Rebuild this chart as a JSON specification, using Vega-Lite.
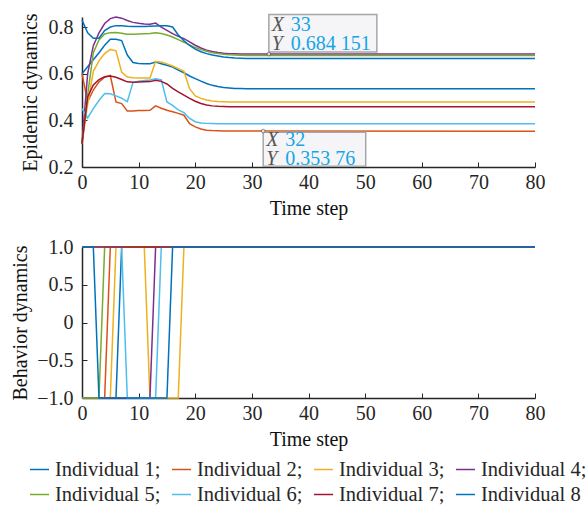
{
  "$schema": "https://vega.github.io/schema/vega-lite/v6.json",
  "padding": {"left": 10, "top": 11, "right": 5, "bottom": 0},
  "config": {
    "font": "Liberation Serif",
    "view": {"stroke": null},
    "axis": {
      "grid": false,
      "domainColor": "#262626",
      "domainWidth": 1.5,
      "tickColor": "#262626",
      "tickSize": -5,
      "tickWidth": 1,
      "labelColor": "#262626",
      "labelFont": "Liberation Serif",
      "labelFontSize": 20,
      "labelPadding": 14,
      "labelFlush": false,
      "titleFont": "Liberation Serif",
      "titleFontSize": 20,
      "titleFontWeight": "normal",
      "titleColor": "#111111"
    },
    "axisX": {"labelPadding": 10},
    "legend": {
      "labelFont": "Liberation Serif",
      "labelFontSize": 20.5,
      "labelColor": "#262626"
    }
  },
  "datasets": {
    "epi": [
      {"t":0,"ind":"Individual 1","v":0.600},{"t":1,"ind":"Individual 1","v":0.630},{"t":2,"ind":"Individual 1","v":0.660},{"t":3,"ind":"Individual 1","v":0.690},{"t":4,"ind":"Individual 1","v":0.722},{"t":5,"ind":"Individual 1","v":0.748},{"t":6,"ind":"Individual 1","v":0.748},{"t":7,"ind":"Individual 1","v":0.742},{"t":8,"ind":"Individual 1","v":0.680},{"t":9,"ind":"Individual 1","v":0.648},{"t":10,"ind":"Individual 1","v":0.644},{"t":11,"ind":"Individual 1","v":0.643},{"t":12,"ind":"Individual 1","v":0.643},{"t":13,"ind":"Individual 1","v":0.650},{"t":14,"ind":"Individual 1","v":0.643},{"t":15,"ind":"Individual 1","v":0.636},{"t":16,"ind":"Individual 1","v":0.628},{"t":17,"ind":"Individual 1","v":0.615},{"t":18,"ind":"Individual 1","v":0.604},{"t":19,"ind":"Individual 1","v":0.590},{"t":20,"ind":"Individual 1","v":0.579},{"t":21,"ind":"Individual 1","v":0.568},{"t":22,"ind":"Individual 1","v":0.558},{"t":23,"ind":"Individual 1","v":0.550},{"t":24,"ind":"Individual 1","v":0.545},{"t":25,"ind":"Individual 1","v":0.541},{"t":26,"ind":"Individual 1","v":0.539},{"t":27,"ind":"Individual 1","v":0.537},{"t":28,"ind":"Individual 1","v":0.536},{"t":29,"ind":"Individual 1","v":0.535},{"t":30,"ind":"Individual 1","v":0.535},{"t":80,"ind":"Individual 1","v":0.535},
      {"t":0,"ind":"Individual 2","v":0.600},{"t":1,"ind":"Individual 2","v":0.480},{"t":2,"ind":"Individual 2","v":0.530},{"t":3,"ind":"Individual 2","v":0.565},{"t":4,"ind":"Individual 2","v":0.585},{"t":5,"ind":"Individual 2","v":0.592},{"t":6,"ind":"Individual 2","v":0.479},{"t":7,"ind":"Individual 2","v":0.472},{"t":8,"ind":"Individual 2","v":0.440},{"t":9,"ind":"Individual 2","v":0.440},{"t":10,"ind":"Individual 2","v":0.442},{"t":11,"ind":"Individual 2","v":0.442},{"t":12,"ind":"Individual 2","v":0.443},{"t":13,"ind":"Individual 2","v":0.462},{"t":14,"ind":"Individual 2","v":0.452},{"t":15,"ind":"Individual 2","v":0.443},{"t":16,"ind":"Individual 2","v":0.437},{"t":17,"ind":"Individual 2","v":0.430},{"t":18,"ind":"Individual 2","v":0.422},{"t":19,"ind":"Individual 2","v":0.386},{"t":20,"ind":"Individual 2","v":0.372},{"t":21,"ind":"Individual 2","v":0.363},{"t":22,"ind":"Individual 2","v":0.358},{"t":23,"ind":"Individual 2","v":0.356},{"t":24,"ind":"Individual 2","v":0.355},{"t":25,"ind":"Individual 2","v":0.354},{"t":26,"ind":"Individual 2","v":0.3538},{"t":27,"ind":"Individual 2","v":0.3538},{"t":28,"ind":"Individual 2","v":0.3538},{"t":29,"ind":"Individual 2","v":0.3538},{"t":30,"ind":"Individual 2","v":0.3538},{"t":80,"ind":"Individual 2","v":0.35376},
      {"t":0,"ind":"Individual 3","v":0.300},{"t":1,"ind":"Individual 3","v":0.470},{"t":2,"ind":"Individual 3","v":0.610},{"t":3,"ind":"Individual 3","v":0.655},{"t":4,"ind":"Individual 3","v":0.686},{"t":5,"ind":"Individual 3","v":0.704},{"t":6,"ind":"Individual 3","v":0.698},{"t":7,"ind":"Individual 3","v":0.607},{"t":8,"ind":"Individual 3","v":0.586},{"t":9,"ind":"Individual 3","v":0.583},{"t":10,"ind":"Individual 3","v":0.582},{"t":11,"ind":"Individual 3","v":0.582},{"t":12,"ind":"Individual 3","v":0.582},{"t":13,"ind":"Individual 3","v":0.652},{"t":14,"ind":"Individual 3","v":0.650},{"t":15,"ind":"Individual 3","v":0.642},{"t":16,"ind":"Individual 3","v":0.633},{"t":17,"ind":"Individual 3","v":0.622},{"t":18,"ind":"Individual 3","v":0.610},{"t":19,"ind":"Individual 3","v":0.536},{"t":20,"ind":"Individual 3","v":0.505},{"t":21,"ind":"Individual 3","v":0.494},{"t":22,"ind":"Individual 3","v":0.487},{"t":23,"ind":"Individual 3","v":0.483},{"t":24,"ind":"Individual 3","v":0.481},{"t":25,"ind":"Individual 3","v":0.480},{"t":26,"ind":"Individual 3","v":0.479},{"t":27,"ind":"Individual 3","v":0.479},{"t":28,"ind":"Individual 3","v":0.479},{"t":29,"ind":"Individual 3","v":0.479},{"t":30,"ind":"Individual 3","v":0.479},{"t":80,"ind":"Individual 3","v":0.479},
      {"t":0,"ind":"Individual 4","v":0.300},{"t":1,"ind":"Individual 4","v":0.600},{"t":2,"ind":"Individual 4","v":0.720},{"t":3,"ind":"Individual 4","v":0.775},{"t":4,"ind":"Individual 4","v":0.815},{"t":5,"ind":"Individual 4","v":0.836},{"t":6,"ind":"Individual 4","v":0.843},{"t":7,"ind":"Individual 4","v":0.838},{"t":8,"ind":"Individual 4","v":0.828},{"t":9,"ind":"Individual 4","v":0.820},{"t":10,"ind":"Individual 4","v":0.816},{"t":11,"ind":"Individual 4","v":0.813},{"t":12,"ind":"Individual 4","v":0.812},{"t":13,"ind":"Individual 4","v":0.817},{"t":14,"ind":"Individual 4","v":0.800},{"t":15,"ind":"Individual 4","v":0.786},{"t":16,"ind":"Individual 4","v":0.772},{"t":17,"ind":"Individual 4","v":0.760},{"t":18,"ind":"Individual 4","v":0.750},{"t":19,"ind":"Individual 4","v":0.736},{"t":20,"ind":"Individual 4","v":0.722},{"t":21,"ind":"Individual 4","v":0.710},{"t":22,"ind":"Individual 4","v":0.701},{"t":23,"ind":"Individual 4","v":0.695},{"t":24,"ind":"Individual 4","v":0.691},{"t":25,"ind":"Individual 4","v":0.688},{"t":26,"ind":"Individual 4","v":0.686},{"t":27,"ind":"Individual 4","v":0.685},{"t":28,"ind":"Individual 4","v":0.6845},{"t":29,"ind":"Individual 4","v":0.6842},{"t":30,"ind":"Individual 4","v":0.68415},{"t":80,"ind":"Individual 4","v":0.684151},
      {"t":0,"ind":"Individual 5","v":0.300},{"t":1,"ind":"Individual 5","v":0.510},{"t":2,"ind":"Individual 5","v":0.690},{"t":3,"ind":"Individual 5","v":0.745},{"t":4,"ind":"Individual 5","v":0.770},{"t":5,"ind":"Individual 5","v":0.776},{"t":6,"ind":"Individual 5","v":0.777},{"t":7,"ind":"Individual 5","v":0.773},{"t":8,"ind":"Individual 5","v":0.769},{"t":9,"ind":"Individual 5","v":0.769},{"t":10,"ind":"Individual 5","v":0.770},{"t":11,"ind":"Individual 5","v":0.771},{"t":12,"ind":"Individual 5","v":0.772},{"t":13,"ind":"Individual 5","v":0.775},{"t":14,"ind":"Individual 5","v":0.772},{"t":15,"ind":"Individual 5","v":0.766},{"t":16,"ind":"Individual 5","v":0.757},{"t":17,"ind":"Individual 5","v":0.746},{"t":18,"ind":"Individual 5","v":0.735},{"t":19,"ind":"Individual 5","v":0.723},{"t":20,"ind":"Individual 5","v":0.712},{"t":21,"ind":"Individual 5","v":0.703},{"t":22,"ind":"Individual 5","v":0.696},{"t":23,"ind":"Individual 5","v":0.690},{"t":24,"ind":"Individual 5","v":0.686},{"t":25,"ind":"Individual 5","v":0.683},{"t":26,"ind":"Individual 5","v":0.681},{"t":27,"ind":"Individual 5","v":0.680},{"t":28,"ind":"Individual 5","v":0.679},{"t":29,"ind":"Individual 5","v":0.678},{"t":30,"ind":"Individual 5","v":0.678},{"t":80,"ind":"Individual 5","v":0.678},
      {"t":0,"ind":"Individual 6","v":0.450},{"t":1,"ind":"Individual 6","v":0.410},{"t":2,"ind":"Individual 6","v":0.450},{"t":3,"ind":"Individual 6","v":0.485},{"t":4,"ind":"Individual 6","v":0.515},{"t":5,"ind":"Individual 6","v":0.514},{"t":6,"ind":"Individual 6","v":0.505},{"t":7,"ind":"Individual 6","v":0.495},{"t":8,"ind":"Individual 6","v":0.480},{"t":9,"ind":"Individual 6","v":0.562},{"t":10,"ind":"Individual 6","v":0.568},{"t":11,"ind":"Individual 6","v":0.571},{"t":12,"ind":"Individual 6","v":0.573},{"t":13,"ind":"Individual 6","v":0.578},{"t":14,"ind":"Individual 6","v":0.573},{"t":15,"ind":"Individual 6","v":0.479},{"t":16,"ind":"Individual 6","v":0.464},{"t":17,"ind":"Individual 6","v":0.445},{"t":18,"ind":"Individual 6","v":0.433},{"t":19,"ind":"Individual 6","v":0.408},{"t":20,"ind":"Individual 6","v":0.394},{"t":21,"ind":"Individual 6","v":0.389},{"t":22,"ind":"Individual 6","v":0.387},{"t":23,"ind":"Individual 6","v":0.386},{"t":24,"ind":"Individual 6","v":0.385},{"t":25,"ind":"Individual 6","v":0.385},{"t":26,"ind":"Individual 6","v":0.385},{"t":27,"ind":"Individual 6","v":0.385},{"t":28,"ind":"Individual 6","v":0.385},{"t":29,"ind":"Individual 6","v":0.385},{"t":30,"ind":"Individual 6","v":0.385},{"t":80,"ind":"Individual 6","v":0.385},
      {"t":0,"ind":"Individual 7","v":0.300},{"t":1,"ind":"Individual 7","v":0.500},{"t":2,"ind":"Individual 7","v":0.552},{"t":3,"ind":"Individual 7","v":0.575},{"t":4,"ind":"Individual 7","v":0.587},{"t":5,"ind":"Individual 7","v":0.590},{"t":6,"ind":"Individual 7","v":0.585},{"t":7,"ind":"Individual 7","v":0.575},{"t":8,"ind":"Individual 7","v":0.565},{"t":9,"ind":"Individual 7","v":0.563},{"t":10,"ind":"Individual 7","v":0.564},{"t":11,"ind":"Individual 7","v":0.565},{"t":12,"ind":"Individual 7","v":0.566},{"t":13,"ind":"Individual 7","v":0.572},{"t":14,"ind":"Individual 7","v":0.567},{"t":15,"ind":"Individual 7","v":0.556},{"t":16,"ind":"Individual 7","v":0.537},{"t":17,"ind":"Individual 7","v":0.522},{"t":18,"ind":"Individual 7","v":0.508},{"t":19,"ind":"Individual 7","v":0.494},{"t":20,"ind":"Individual 7","v":0.482},{"t":21,"ind":"Individual 7","v":0.472},{"t":22,"ind":"Individual 7","v":0.466},{"t":23,"ind":"Individual 7","v":0.462},{"t":24,"ind":"Individual 7","v":0.460},{"t":25,"ind":"Individual 7","v":0.459},{"t":26,"ind":"Individual 7","v":0.458},{"t":27,"ind":"Individual 7","v":0.458},{"t":28,"ind":"Individual 7","v":0.458},{"t":29,"ind":"Individual 7","v":0.458},{"t":30,"ind":"Individual 7","v":0.458},{"t":80,"ind":"Individual 7","v":0.458},
      {"t":0,"ind":"Individual 8","v":0.830},{"t":1,"ind":"Individual 8","v":0.775},{"t":2,"ind":"Individual 8","v":0.752},{"t":3,"ind":"Individual 8","v":0.752},{"t":4,"ind":"Individual 8","v":0.785},{"t":5,"ind":"Individual 8","v":0.800},{"t":6,"ind":"Individual 8","v":0.806},{"t":7,"ind":"Individual 8","v":0.805},{"t":8,"ind":"Individual 8","v":0.803},{"t":9,"ind":"Individual 8","v":0.802},{"t":10,"ind":"Individual 8","v":0.802},{"t":11,"ind":"Individual 8","v":0.802},{"t":12,"ind":"Individual 8","v":0.803},{"t":13,"ind":"Individual 8","v":0.804},{"t":14,"ind":"Individual 8","v":0.805},{"t":15,"ind":"Individual 8","v":0.805},{"t":16,"ind":"Individual 8","v":0.800},{"t":17,"ind":"Individual 8","v":0.766},{"t":18,"ind":"Individual 8","v":0.741},{"t":19,"ind":"Individual 8","v":0.721},{"t":20,"ind":"Individual 8","v":0.705},{"t":21,"ind":"Individual 8","v":0.694},{"t":22,"ind":"Individual 8","v":0.686},{"t":23,"ind":"Individual 8","v":0.680},{"t":24,"ind":"Individual 8","v":0.676},{"t":25,"ind":"Individual 8","v":0.672},{"t":26,"ind":"Individual 8","v":0.669},{"t":27,"ind":"Individual 8","v":0.667},{"t":28,"ind":"Individual 8","v":0.666},{"t":29,"ind":"Individual 8","v":0.665},{"t":30,"ind":"Individual 8","v":0.665},{"t":80,"ind":"Individual 8","v":0.665}
    ],
    "beh": [
      {"t":0,"ind":"Individual 1","b":-1},{"t":6,"ind":"Individual 1","b":-1},{"t":7,"ind":"Individual 1","b":1},{"t":80,"ind":"Individual 1","b":1},
      {"t":0,"ind":"Individual 2","b":-1},{"t":4,"ind":"Individual 2","b":-1},{"t":5,"ind":"Individual 2","b":1},{"t":80,"ind":"Individual 2","b":1},
      {"t":0,"ind":"Individual 3","b":-1},{"t":5,"ind":"Individual 3","b":-1},{"t":6,"ind":"Individual 3","b":1},{"t":11,"ind":"Individual 3","b":1},{"t":12,"ind":"Individual 3","b":-1},{"t":17,"ind":"Individual 3","b":-1},{"t":18,"ind":"Individual 3","b":1},{"t":80,"ind":"Individual 3","b":1},
      {"t":0,"ind":"Individual 4","b":-1},{"t":12,"ind":"Individual 4","b":-1},{"t":13,"ind":"Individual 4","b":1},{"t":80,"ind":"Individual 4","b":1},
      {"t":0,"ind":"Individual 5","b":-1},{"t":3,"ind":"Individual 5","b":-1},{"t":4,"ind":"Individual 5","b":1},{"t":80,"ind":"Individual 5","b":1},
      {"t":0,"ind":"Individual 6","b":1},{"t":7,"ind":"Individual 6","b":1},{"t":8,"ind":"Individual 6","b":-1},{"t":13,"ind":"Individual 6","b":-1},{"t":14,"ind":"Individual 6","b":1},{"t":80,"ind":"Individual 6","b":1},
      {"t":0,"ind":"Individual 7","b":1},{"t":80,"ind":"Individual 7","b":1},
      {"t":0,"ind":"Individual 8","b":1},{"t":2,"ind":"Individual 8","b":1},{"t":3,"ind":"Individual 8","b":-1},{"t":15,"ind":"Individual 8","b":-1},{"t":16,"ind":"Individual 8","b":1},{"t":80,"ind":"Individual 8","b":1}
    ],
    "tips": [
      {"t":33,"v":0.684151,"pos":"above","txt":"33\n0.684 151"},
      {"t":32,"v":0.35376,"pos":"below","txt":"32\n0.353 76"}
    ]
  },
  "vconcat": [
    {
      "width": 453,
      "height": 150,
      "layer": [
        {
          "data": {"name": "epi"},
          "mark": {"type": "line", "strokeWidth": 1.5},
          "encoding": {
            "x": {"field": "t", "type": "quantitative", "scale": {"domain": [0, 80], "nice": false}, "axis": {"values": [0,10,20,30,40,50,60,70,80], "title": "Time step", "titlePadding": 6}},
            "y": {"field": "v", "type": "quantitative", "scale": {"domain": [0.2, 0.843], "nice": false, "zero": false}, "axis": {"values": [0.2,0.4,0.6,0.8], "format": ".1f", "title": "Epidemic dynamics", "titlePadding": 8}},
            "color": {"field": "ind", "type": "nominal",
              "scale": {"domain": ["Individual 1","Individual 2","Individual 3","Individual 4","Individual 5","Individual 6","Individual 7","Individual 8"],
                        "range": ["#0072BD","#D95319","#EDB120","#7E2F8E","#77AC30","#4DBEEE","#A2142F","#0072BD"]},
              "legend": {"title": null, "orient": "none", "legendX": -53, "legendY": 442, "direction": "horizontal", "columns": 4, "padding": 0, "symbolType": "stroke", "symbolSize": 361, "symbolStrokeWidth": 1.5, "labelOffset": 5, "columnPadding": 8, "rowPadding": 4, "labelFont": "Liberation Serif", "labelFontSize": 20.5,
                "labelExpr": "datum.label == 'Individual 8' ? datum.label : datum.label + ';'"}}
          }
        },
        {
          "data": {"name": "tips"},
          "mark": {"type": "point", "filled": true, "size": 10000, "fill": "#F4F4F8", "fillOpacity": 0.95, "stroke": "#A6A6A6", "strokeWidth": 1.5, "opacity": 1},
          "encoding": {
            "x": {"field": "t", "type": "quantitative"},
            "y": {"field": "v", "type": "quantitative"},
            "shape": {"field": "pos", "type": "nominal", "legend": null,
              "scale": {"domain": ["above","below"], "range": ["M0,-0.04 L2.16,-0.04 L2.16,-0.79 L0,-0.79 Z", "M0,0.02 L2.05,0.02 L2.05,0.70 L0,0.70 Z"]}}
          }
        },
        {
          "data": {"name": "tips"},
          "mark": {"type": "point", "filled": true, "size": 14, "fill": "#ffffff", "stroke": "#404040", "strokeWidth": 0.8, "shape": "circle"},
          "encoding": {
            "x": {"field": "t", "type": "quantitative"},
            "y": {"field": "v", "type": "quantitative"}
          }
        },
        {
          "data": {"name": "tips"},
          "transform": [{"filter": "datum.pos == 'above'"}],
          "mark": {"type": "text", "text": "X\nY", "lineBreak": "\n", "lineHeight": 19.5, "align": "left", "baseline": "alphabetic", "dx": 3, "dy": -23.5, "fontSize": 20, "fontStyle": "italic", "color": "#555555", "font": "Liberation Serif"},
          "encoding": {"x": {"field": "t", "type": "quantitative"}, "y": {"field": "v", "type": "quantitative"}}
        },
        {
          "data": {"name": "tips"},
          "transform": [{"filter": "datum.pos == 'above'"}],
          "mark": {"type": "text", "lineBreak": "\n", "lineHeight": 19.5, "align": "left", "baseline": "alphabetic", "dx": 22, "dy": -23.5, "fontSize": 20, "color": "#14A5E6", "font": "Liberation Serif"},
          "encoding": {"x": {"field": "t", "type": "quantitative"}, "y": {"field": "v", "type": "quantitative"}, "text": {"field": "txt"}}
        },
        {
          "data": {"name": "tips"},
          "transform": [{"filter": "datum.pos == 'below'"}],
          "mark": {"type": "text", "text": "X\nY", "lineBreak": "\n", "lineHeight": 18.5, "align": "left", "baseline": "alphabetic", "dx": 3, "dy": 15, "fontSize": 20, "fontStyle": "italic", "color": "#555555", "font": "Liberation Serif"},
          "encoding": {"x": {"field": "t", "type": "quantitative"}, "y": {"field": "v", "type": "quantitative"}}
        },
        {
          "data": {"name": "tips"},
          "transform": [{"filter": "datum.pos == 'below'"}],
          "mark": {"type": "text", "lineBreak": "\n", "lineHeight": 18.5, "align": "left", "baseline": "alphabetic", "dx": 22, "dy": 15, "fontSize": 20, "color": "#14A5E6", "font": "Liberation Serif"},
          "encoding": {"x": {"field": "t", "type": "quantitative"}, "y": {"field": "v", "type": "quantitative"}, "text": {"field": "txt"}}
        }
      ]
    },
    {
      "width": 453,
      "height": 151,
      "data": {"name": "beh"},
      "mark": {"type": "line", "strokeWidth": 1.5},
      "encoding": {
        "x": {"field": "t", "type": "quantitative", "scale": {"domain": [0, 80], "nice": false}, "axis": {"values": [0,10,20,30,40,50,60,70,80], "title": "Time step", "titlePadding": 6}},
        "y": {"field": "b", "type": "quantitative", "scale": {"domain": [-1, 1], "nice": false}, "axis": {"values": [-1,-0.5,0,0.5,1], "labelExpr": "datum.value == 0 ? '0' : format(datum.value, '.1f')", "title": "Behavior dynamics", "titlePadding": 6}},
        "color": {"field": "ind", "type": "nominal"}
      }
    }
  ],
  "spacing": 19
}
